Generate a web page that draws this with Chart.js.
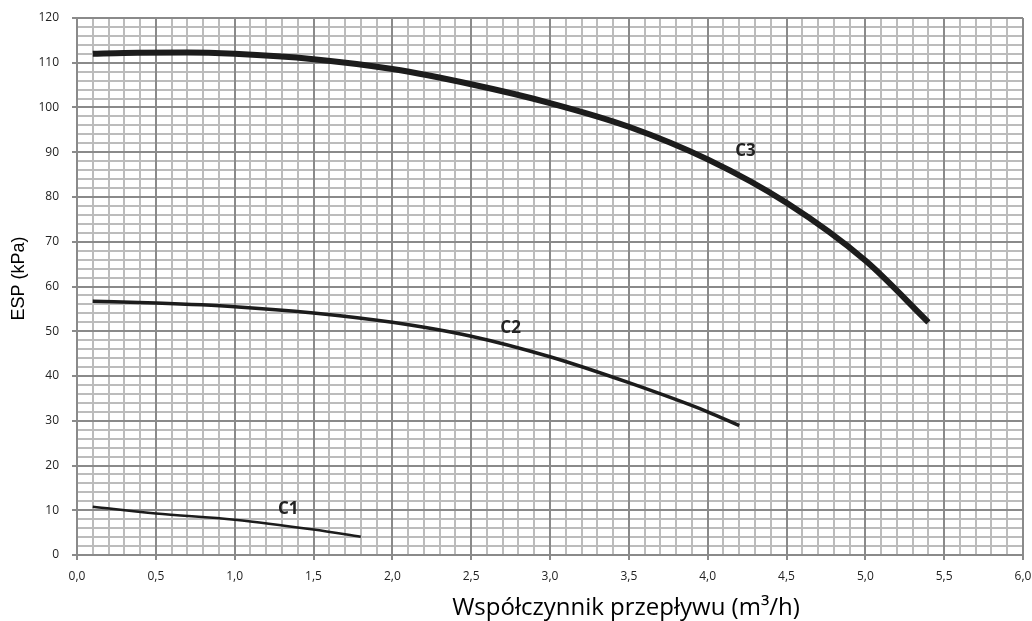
<!DOCTYPE html>
<html>
<head>
<meta charset="utf-8">
<script src="https://cdn.jsdelivr.net/npm/chart.js@4/dist/chart.umd.min.js"></script>
<style>
  html, body { margin: 0; padding: 0; background: #fff; }
  #wrap { width: 1032px; height: 621px; }
</style>
</head>
<body>
<div id="wrap"><canvas id="chart"></canvas></div>
<script>
'use strict';

// krzywe ESP (kPa) w funkcji przepływu (m3/h)
var c1X = [0.1, 0.5, 1.0, 1.5, 1.8];
var c1Y = [10.8, 9.3, 7.9, 5.7, 4.1];
var c2X = [0.1, 0.5, 1.0, 1.5, 2.0, 2.5, 3.0, 3.5, 4.0, 4.2];
var c2Y = [56.7, 56.3, 55.5, 54.1, 52.0, 48.9, 44.3, 38.5, 32.0, 28.9];
var c3X = [0.1, 0.3, 0.7, 1.0, 1.5, 2.0, 2.5, 3.0, 3.5, 4.0, 4.5, 5.0, 5.4];
var c3Y = [112.0, 112.2, 112.3, 112.0, 110.8, 108.6, 105.2, 101.0, 95.7, 88.4, 78.7, 65.8, 52.0];

var curveNames = ['C1', 'C2', 'C3'];
var labelX = [1.34, 2.75, 4.24];
var labelY = [10.2, 50.8, 90.2];

var xTitle = 'Współczynnik przepływu (m³/h)';
var yTitle = 'ESP (kPa)';

function toPoints(xs, ys) {
  return xs.map(function(x, i) { return {x: x, y: ys[i]}; });
}

function makeSet(xs, ys, width) {
  return {
    data: toPoints(xs, ys),
    borderColor: '#1c1c1c',
    borderWidth: width,
    pointRadius: 0,
    showLine: true,
    fill: false,
    cubicInterpolationMode: 'monotone',
    borderCapStyle: 'butt'
  };
}

// podpisy krzywych i tytuły osi
var textPlugin = {
  id: 'texts',
  afterDatasetsDraw: function(chart) {
    var ctx = chart.ctx;
    var xs = chart.scales.x, ys = chart.scales.y;
    ctx.save();
    ctx.fillStyle = '#222';
    ctx.font = 'bold 17px "Open Sans", sans-serif';
    ctx.textAlign = 'center';
    ctx.textBaseline = 'middle';
    curveNames.forEach(function(name, i) {
      ctx.fillText(name, xs.getPixelForValue(labelX[i]), ys.getPixelForValue(labelY[i]));
    });
    var area = chart.chartArea;
    ctx.fillStyle = '#000';
    ctx.font = '24px "Open Sans", sans-serif';
    ctx.textBaseline = 'alphabetic';
    ctx.fillText(xTitle, (area.left + area.right) / 2 + 76, 615);
    ctx.textBaseline = 'middle';
    ctx.translate(19, (area.top + area.bottom) / 2 - 8);
    ctx.rotate(-Math.PI / 2);
    ctx.font = '18px "Liberation Sans", Arial, sans-serif';
    ctx.fillText(yTitle, 0, 0);
    ctx.restore();
  }
};

var tickFont = {family: '"Open Sans", sans-serif', size: 12};

function fmtX(v) {
  return v.toFixed(1).replace('.', ',');
}

var ctx = document.getElementById('chart').getContext('2d');
var myChart = new Chart(ctx, {
  type: 'scatter',
  data: {
    datasets: [
      makeSet(c1X, c1Y, 2.5),
      makeSet(c2X, c2Y, 3.5),
      makeSet(c3X, c3Y, 6)
    ]
  },
  options: {
    responsive: true,
    maintainAspectRatio: false,
    animation: false,
    layout: { padding: { top: 18, right: 9, left: 0, bottom: 0 } },
    plugins: {
      legend: { display: false },
      tooltip: { enabled: false }
    },
    scales: {
      xMinor: {
        type: 'linear', position: 'bottom', min: 0, max: 6, z: -2,
        ticks: { display: false, stepSize: 0.1 },
        grid: { color: '#bcbcbc', lineWidth: 2, drawTicks: false },
        border: { display: false },
        afterFit: function(s) { s.height = 0; s.paddingLeft = 0; s.paddingRight = 0; }
      },
      yMinor: {
        type: 'linear', position: 'left', min: 0, max: 120, z: -2,
        ticks: { display: false, stepSize: 2 },
        grid: { color: '#bcbcbc', lineWidth: 2, drawTicks: false },
        border: { display: false },
        afterFit: function(s) { s.width = 0; s.paddingTop = 0; s.paddingBottom = 0; }
      },
      x: {
        type: 'linear', position: 'bottom', min: 0, max: 6, z: -1,
        ticks: { stepSize: 0.5, color: '#222', font: tickFont, padding: 9, callback: fmtX },
        grid: { color: '#8a8a8a', lineWidth: 2, tickLength: 5 },
        border: { color: '#8a8a8a', width: 2 },
        afterFit: function(s) { s.height = 66; s.paddingLeft = 0; s.paddingRight = 0; }
      },
      y: {
        type: 'linear', position: 'left', min: 0, max: 120, z: -1,
        ticks: { stepSize: 10, color: '#222', font: tickFont, padding: 13 },
        grid: { color: '#8a8a8a', lineWidth: 2, tickLength: 5 },
        border: { color: '#8a8a8a', width: 2 },
        afterFit: function(s) { s.width = 77; s.paddingTop = 0; s.paddingBottom = 0; }
      }
    }
  },
  plugins: [textPlugin]
});
</script>
</body>
</html>
